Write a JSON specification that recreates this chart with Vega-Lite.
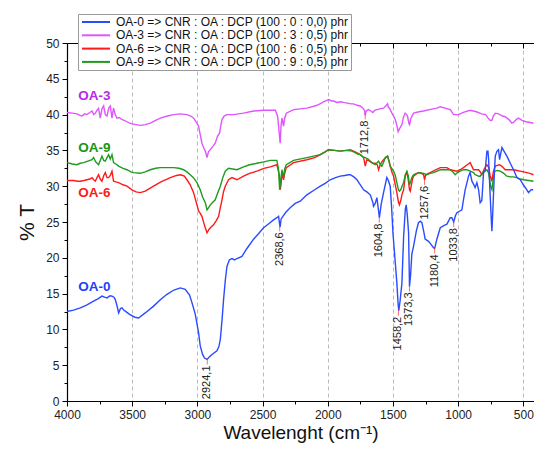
{
"$schema": "https://vega.github.io/schema/vega-lite/v6.json",
"width": 467, "height": 358,
"autosize": "none",
"padding": {"left": 67, "top": 43, "right": 0, "bottom": 48},
"background": "white",
"config": {"view": {"stroke": null}, "font": "Liberation Sans",
  "axis": {"domainColor": "#000", "tickColor": "#000", "labelColor": "#222", "labelFont": "Liberation Sans", "titleFont": "Liberation Sans", "labelFontSize": 12, "titleFontWeight": "normal", "titleColor": "#111", "domainWidth": 1.2, "tickWidth": 1}},
"datasets": {
"spec": [
{"s":"OA-6","w":4000,"t":30.8},{"s":"OA-6","w":3970,"t":30.8},{"s":"OA-6","w":3949,"t":30.8},{"s":"OA-6","w":3920,"t":30.7},{"s":"OA-6","w":3898,"t":30.7},{"s":"OA-6","w":3870,"t":30.8},{"s":"OA-6","w":3847,"t":30.9},{"s":"OA-6","w":3825,"t":31.0},{"s":"OA-6","w":3808,"t":31.2},{"s":"OA-6","w":3795,"t":30.9},{"s":"OA-6","w":3783,"t":30.7},{"s":"OA-6","w":3770,"t":31.2},{"s":"OA-6","w":3758,"t":31.6},{"s":"OA-6","w":3745,"t":31.0},{"s":"OA-6","w":3732,"t":30.7},{"s":"OA-6","w":3718,"t":31.5},{"s":"OA-6","w":3706,"t":31.9},{"s":"OA-6","w":3693,"t":31.2},{"s":"OA-6","w":3681,"t":31.2},{"s":"OA-6","w":3668,"t":31.5},{"s":"OA-6","w":3655,"t":32.1},{"s":"OA-6","w":3643,"t":30.7},{"s":"OA-6","w":3625,"t":30.6},{"s":"OA-6","w":3604,"t":30.5},{"s":"OA-6","w":3570,"t":30.2},{"s":"OA-6","w":3540,"t":30.0},{"s":"OA-6","w":3501,"t":29.5},{"s":"OA-6","w":3470,"t":29.2},{"s":"OA-6","w":3438,"t":29.1},{"s":"OA-6","w":3400,"t":29.3},{"s":"OA-6","w":3336,"t":30.0},{"s":"OA-6","w":3280,"t":30.6},{"s":"OA-6","w":3207,"t":31.2},{"s":"OA-6","w":3160,"t":31.5},{"s":"OA-6","w":3131,"t":31.6},{"s":"OA-6","w":3100,"t":31.4},{"s":"OA-6","w":3080,"t":30.9},{"s":"OA-6","w":3055,"t":30.2},{"s":"OA-6","w":3029,"t":29.1},{"s":"OA-6","w":3005,"t":27.5},{"s":"OA-6","w":2990,"t":26.5},{"s":"OA-6","w":2978,"t":26.2},{"s":"OA-6","w":2965,"t":25.8},{"s":"OA-6","w":2945,"t":24.5},{"s":"OA-6","w":2926,"t":23.5},{"s":"OA-6","w":2910,"t":24.0},{"s":"OA-6","w":2895,"t":24.3},{"s":"OA-6","w":2876,"t":24.6},{"s":"OA-6","w":2855,"t":25.2},{"s":"OA-6","w":2837,"t":25.8},{"s":"OA-6","w":2824,"t":27.0},{"s":"OA-6","w":2811,"t":28.1},{"s":"OA-6","w":2800,"t":29.2},{"s":"OA-6","w":2786,"t":30.0},{"s":"OA-6","w":2761,"t":30.9},{"s":"OA-6","w":2735,"t":31.2},{"s":"OA-6","w":2696,"t":30.9},{"s":"OA-6","w":2646,"t":31.4},{"s":"OA-6","w":2600,"t":31.8},{"s":"OA-6","w":2543,"t":32.1},{"s":"OA-6","w":2490,"t":32.5},{"s":"OA-6","w":2441,"t":32.7},{"s":"OA-6","w":2390,"t":33.0},{"s":"OA-6","w":2372,"t":31.6},{"s":"OA-6","w":2364,"t":29.5},{"s":"OA-6","w":2357,"t":30.5},{"s":"OA-6","w":2351,"t":31.9},{"s":"OA-6","w":2339,"t":30.9},{"s":"OA-6","w":2330,"t":31.8},{"s":"OA-6","w":2318,"t":32.6},{"s":"OA-6","w":2262,"t":33.3},{"s":"OA-6","w":2160,"t":33.7},{"s":"OA-6","w":2100,"t":34.0},{"s":"OA-6","w":2057,"t":34.4},{"s":"OA-6","w":2020,"t":34.8},{"s":"OA-6","w":1994,"t":35.1},{"s":"OA-6","w":1950,"t":35.0},{"s":"OA-6","w":1904,"t":34.9},{"s":"OA-6","w":1860,"t":35.0},{"s":"OA-6","w":1827,"t":35.1},{"s":"OA-6","w":1790,"t":34.8},{"s":"OA-6","w":1751,"t":34.4},{"s":"OA-6","w":1725,"t":34.0},{"s":"OA-6","w":1712,"t":32.8},{"s":"OA-6","w":1700,"t":33.7},{"s":"OA-6","w":1680,"t":33.5},{"s":"OA-6","w":1655,"t":33.2},{"s":"OA-6","w":1636,"t":33.2},{"s":"OA-6","w":1620,"t":33.0},{"s":"OA-6","w":1610,"t":32.3},{"s":"OA-6","w":1598,"t":33.0},{"s":"OA-6","w":1585,"t":33.4},{"s":"OA-6","w":1572,"t":33.7},{"s":"OA-6","w":1555,"t":34.0},{"s":"OA-6","w":1541,"t":34.2},{"s":"OA-6","w":1530,"t":33.5},{"s":"OA-6","w":1521,"t":32.8},{"s":"OA-6","w":1505,"t":31.8},{"s":"OA-6","w":1495,"t":31.4},{"s":"OA-6","w":1482,"t":30.2},{"s":"OA-6","w":1470,"t":29.1},{"s":"OA-6","w":1458,"t":27.8},{"s":"OA-6","w":1450,"t":27.4},{"s":"OA-6","w":1440,"t":28.0},{"s":"OA-6","w":1430,"t":28.9},{"s":"OA-6","w":1418,"t":29.5},{"s":"OA-6","w":1405,"t":31.5},{"s":"OA-6","w":1393,"t":31.9},{"s":"OA-6","w":1383,"t":31.0},{"s":"OA-6","w":1373,"t":29.5},{"s":"OA-6","w":1367,"t":29.3},{"s":"OA-6","w":1360,"t":30.0},{"s":"OA-6","w":1350,"t":31.0},{"s":"OA-6","w":1342,"t":31.4},{"s":"OA-6","w":1320,"t":31.7},{"s":"OA-6","w":1304,"t":31.9},{"s":"OA-6","w":1280,"t":31.8},{"s":"OA-6","w":1265,"t":31.6},{"s":"OA-6","w":1257,"t":30.9},{"s":"OA-6","w":1250,"t":31.5},{"s":"OA-6","w":1230,"t":31.8},{"s":"OA-6","w":1214,"t":31.9},{"s":"OA-6","w":1180,"t":32.2},{"s":"OA-6","w":1137,"t":32.6},{"s":"OA-6","w":1100,"t":32.6},{"s":"OA-6","w":1086,"t":32.6},{"s":"OA-6","w":1060,"t":32.3},{"s":"OA-6","w":1035,"t":32.2},{"s":"OA-6","w":1009,"t":32.1},{"s":"OA-6","w":985,"t":32.3},{"s":"OA-6","w":959,"t":32.6},{"s":"OA-6","w":930,"t":33.0},{"s":"OA-6","w":908,"t":33.3},{"s":"OA-6","w":895,"t":32.8},{"s":"OA-6","w":882,"t":32.3},{"s":"OA-6","w":860,"t":32.3},{"s":"OA-6","w":843,"t":32.3},{"s":"OA-6","w":830,"t":32.0},{"s":"OA-6","w":818,"t":31.6},{"s":"OA-6","w":800,"t":32.4},{"s":"OA-6","w":779,"t":33.0},{"s":"OA-6","w":765,"t":32.6},{"s":"OA-6","w":755,"t":31.5},{"s":"OA-6","w":741,"t":30.7},{"s":"OA-6","w":730,"t":32.0},{"s":"OA-6","w":715,"t":32.8},{"s":"OA-6","w":700,"t":32.9},{"s":"OA-6","w":682,"t":33.0},{"s":"OA-6","w":660,"t":32.7},{"s":"OA-6","w":639,"t":32.3},{"s":"OA-6","w":600,"t":32.3},{"s":"OA-6","w":575,"t":32.3},{"s":"OA-6","w":549,"t":32.2},{"s":"OA-6","w":523,"t":32.1},{"s":"OA-6","w":498,"t":32.0},{"s":"OA-6","w":473,"t":31.9},{"s":"OA-6","w":450,"t":31.8},{"s":"OA-6","w":422,"t":31.6},
{"s":"OA-9","w":4000,"t":33.3},{"s":"OA-9","w":3960,"t":33.1},{"s":"OA-9","w":3923,"t":33.0},{"s":"OA-9","w":3900,"t":33.2},{"s":"OA-9","w":3872,"t":33.3},{"s":"OA-9","w":3840,"t":33.5},{"s":"OA-9","w":3808,"t":33.7},{"s":"OA-9","w":3796,"t":34.0},{"s":"OA-9","w":3780,"t":33.4},{"s":"OA-9","w":3758,"t":33.0},{"s":"OA-9","w":3745,"t":33.6},{"s":"OA-9","w":3732,"t":34.2},{"s":"OA-9","w":3718,"t":33.6},{"s":"OA-9","w":3706,"t":33.5},{"s":"OA-9","w":3693,"t":34.0},{"s":"OA-9","w":3681,"t":34.4},{"s":"OA-9","w":3668,"t":33.8},{"s":"OA-9","w":3655,"t":34.4},{"s":"OA-9","w":3643,"t":33.3},{"s":"OA-9","w":3625,"t":33.1},{"s":"OA-9","w":3604,"t":32.8},{"s":"OA-9","w":3570,"t":32.5},{"s":"OA-9","w":3540,"t":32.3},{"s":"OA-9","w":3510,"t":32.0},{"s":"OA-9","w":3489,"t":31.9},{"s":"OA-9","w":3438,"t":31.8},{"s":"OA-9","w":3400,"t":32.0},{"s":"OA-9","w":3361,"t":32.3},{"s":"OA-9","w":3320,"t":32.5},{"s":"OA-9","w":3284,"t":32.6},{"s":"OA-9","w":3230,"t":32.6},{"s":"OA-9","w":3182,"t":32.6},{"s":"OA-9","w":3140,"t":32.5},{"s":"OA-9","w":3106,"t":32.3},{"s":"OA-9","w":3080,"t":32.0},{"s":"OA-9","w":3055,"t":31.6},{"s":"OA-9","w":3030,"t":31.2},{"s":"OA-9","w":3003,"t":30.5},{"s":"OA-9","w":2978,"t":29.5},{"s":"OA-9","w":2960,"t":28.5},{"s":"OA-9","w":2939,"t":27.7},{"s":"OA-9","w":2926,"t":26.7},{"s":"OA-9","w":2914,"t":27.0},{"s":"OA-9","w":2900,"t":27.4},{"s":"OA-9","w":2880,"t":27.8},{"s":"OA-9","w":2863,"t":28.1},{"s":"OA-9","w":2845,"t":29.0},{"s":"OA-9","w":2824,"t":30.0},{"s":"OA-9","w":2805,"t":31.2},{"s":"OA-9","w":2786,"t":32.1},{"s":"OA-9","w":2761,"t":32.5},{"s":"OA-9","w":2730,"t":32.4},{"s":"OA-9","w":2696,"t":32.3},{"s":"OA-9","w":2646,"t":32.7},{"s":"OA-9","w":2600,"t":33.0},{"s":"OA-9","w":2543,"t":33.2},{"s":"OA-9","w":2490,"t":33.4},{"s":"OA-9","w":2441,"t":33.6},{"s":"OA-9","w":2390,"t":33.6},{"s":"OA-9","w":2377,"t":32.3},{"s":"OA-9","w":2369,"t":29.5},{"s":"OA-9","w":2360,"t":31.0},{"s":"OA-9","w":2351,"t":32.3},{"s":"OA-9","w":2339,"t":31.2},{"s":"OA-9","w":2330,"t":32.4},{"s":"OA-9","w":2318,"t":33.0},{"s":"OA-9","w":2262,"t":33.6},{"s":"OA-9","w":2160,"t":34.0},{"s":"OA-9","w":2057,"t":34.4},{"s":"OA-9","w":2020,"t":34.8},{"s":"OA-9","w":1994,"t":35.1},{"s":"OA-9","w":1950,"t":35.0},{"s":"OA-9","w":1904,"t":34.9},{"s":"OA-9","w":1860,"t":35.0},{"s":"OA-9","w":1814,"t":34.9},{"s":"OA-9","w":1790,"t":34.7},{"s":"OA-9","w":1770,"t":34.5},{"s":"OA-9","w":1751,"t":34.4},{"s":"OA-9","w":1730,"t":34.1},{"s":"OA-9","w":1712,"t":34.0},{"s":"OA-9","w":1690,"t":33.8},{"s":"OA-9","w":1674,"t":33.5},{"s":"OA-9","w":1655,"t":33.2},{"s":"OA-9","w":1636,"t":33.0},{"s":"OA-9","w":1620,"t":33.3},{"s":"OA-9","w":1610,"t":33.5},{"s":"OA-9","w":1595,"t":33.0},{"s":"OA-9","w":1585,"t":32.8},{"s":"OA-9","w":1570,"t":33.4},{"s":"OA-9","w":1559,"t":34.0},{"s":"OA-9","w":1541,"t":34.2},{"s":"OA-9","w":1530,"t":33.5},{"s":"OA-9","w":1521,"t":32.8},{"s":"OA-9","w":1505,"t":32.4},{"s":"OA-9","w":1495,"t":32.1},{"s":"OA-9","w":1482,"t":31.5},{"s":"OA-9","w":1470,"t":30.5},{"s":"OA-9","w":1458,"t":29.5},{"s":"OA-9","w":1450,"t":29.3},{"s":"OA-9","w":1440,"t":29.5},{"s":"OA-9","w":1430,"t":30.0},{"s":"OA-9","w":1418,"t":30.5},{"s":"OA-9","w":1405,"t":31.6},{"s":"OA-9","w":1393,"t":32.1},{"s":"OA-9","w":1383,"t":31.5},{"s":"OA-9","w":1373,"t":30.2},{"s":"OA-9","w":1365,"t":30.6},{"s":"OA-9","w":1355,"t":31.2},{"s":"OA-9","w":1342,"t":31.6},{"s":"OA-9","w":1320,"t":31.8},{"s":"OA-9","w":1291,"t":31.9},{"s":"OA-9","w":1265,"t":31.8},{"s":"OA-9","w":1240,"t":31.6},{"s":"OA-9","w":1214,"t":31.8},{"s":"OA-9","w":1189,"t":31.9},{"s":"OA-9","w":1160,"t":32.1},{"s":"OA-9","w":1137,"t":32.3},{"s":"OA-9","w":1100,"t":32.3},{"s":"OA-9","w":1060,"t":32.3},{"s":"OA-9","w":1040,"t":32.0},{"s":"OA-9","w":1023,"t":31.6},{"s":"OA-9","w":1005,"t":31.9},{"s":"OA-9","w":984,"t":32.1},{"s":"OA-9","w":960,"t":32.3},{"s":"OA-9","w":933,"t":32.3},{"s":"OA-9","w":908,"t":32.1},{"s":"OA-9","w":882,"t":31.9},{"s":"OA-9","w":869,"t":31.6},{"s":"OA-9","w":855,"t":31.5},{"s":"OA-9","w":843,"t":31.4},{"s":"OA-9","w":831,"t":31.4},{"s":"OA-9","w":815,"t":31.8},{"s":"OA-9","w":800,"t":32.0},{"s":"OA-9","w":779,"t":32.3},{"s":"OA-9","w":765,"t":31.8},{"s":"OA-9","w":755,"t":30.5},{"s":"OA-9","w":748,"t":29.8},{"s":"OA-9","w":741,"t":29.5},{"s":"OA-9","w":732,"t":30.8},{"s":"OA-9","w":722,"t":32.0},{"s":"OA-9","w":715,"t":32.1},{"s":"OA-9","w":700,"t":32.2},{"s":"OA-9","w":677,"t":32.1},{"s":"OA-9","w":650,"t":31.8},{"s":"OA-9","w":626,"t":31.4},{"s":"OA-9","w":600,"t":31.3},{"s":"OA-9","w":575,"t":31.3},{"s":"OA-9","w":549,"t":31.2},{"s":"OA-9","w":523,"t":31.0},{"s":"OA-9","w":498,"t":30.9},{"s":"OA-9","w":460,"t":30.8},{"s":"OA-9","w":422,"t":30.7},
{"s":"OA-3","w":4000,"t":40.3},{"s":"OA-3","w":3960,"t":40.2},{"s":"OA-3","w":3923,"t":40.1},{"s":"OA-3","w":3900,"t":39.9},{"s":"OA-3","w":3885,"t":39.8},{"s":"OA-3","w":3865,"t":40.1},{"s":"OA-3","w":3847,"t":40.0},{"s":"OA-3","w":3825,"t":40.3},{"s":"OA-3","w":3808,"t":40.5},{"s":"OA-3","w":3795,"t":40.0},{"s":"OA-3","w":3783,"t":40.2},{"s":"OA-3","w":3770,"t":40.6},{"s":"OA-3","w":3758,"t":40.9},{"s":"OA-3","w":3745,"t":39.5},{"s":"OA-3","w":3732,"t":40.8},{"s":"OA-3","w":3719,"t":41.2},{"s":"OA-3","w":3706,"t":40.0},{"s":"OA-3","w":3693,"t":39.8},{"s":"OA-3","w":3680,"t":40.9},{"s":"OA-3","w":3668,"t":41.2},{"s":"OA-3","w":3655,"t":39.5},{"s":"OA-3","w":3643,"t":40.9},{"s":"OA-3","w":3630,"t":40.0},{"s":"OA-3","w":3617,"t":39.5},{"s":"OA-3","w":3600,"t":39.6},{"s":"OA-3","w":3578,"t":39.3},{"s":"OA-3","w":3560,"t":39.2},{"s":"OA-3","w":3540,"t":39.0},{"s":"OA-3","w":3520,"t":38.8},{"s":"OA-3","w":3501,"t":38.7},{"s":"OA-3","w":3470,"t":38.6},{"s":"OA-3","w":3438,"t":38.5},{"s":"OA-3","w":3400,"t":38.6},{"s":"OA-3","w":3361,"t":38.8},{"s":"OA-3","w":3320,"t":39.2},{"s":"OA-3","w":3284,"t":39.5},{"s":"OA-3","w":3230,"t":39.8},{"s":"OA-3","w":3182,"t":40.0},{"s":"OA-3","w":3130,"t":40.1},{"s":"OA-3","w":3080,"t":40.0},{"s":"OA-3","w":3050,"t":39.8},{"s":"OA-3","w":3029,"t":39.5},{"s":"OA-3","w":3010,"t":39.0},{"s":"OA-3","w":2991,"t":38.4},{"s":"OA-3","w":2978,"t":37.2},{"s":"OA-3","w":2965,"t":36.0},{"s":"OA-3","w":2950,"t":35.3},{"s":"OA-3","w":2939,"t":34.9},{"s":"OA-3","w":2926,"t":34.0},{"s":"OA-3","w":2915,"t":34.8},{"s":"OA-3","w":2901,"t":35.1},{"s":"OA-3","w":2880,"t":35.6},{"s":"OA-3","w":2863,"t":36.0},{"s":"OA-3","w":2845,"t":37.0},{"s":"OA-3","w":2830,"t":37.4},{"s":"OA-3","w":2820,"t":38.5},{"s":"OA-3","w":2811,"t":39.3},{"s":"OA-3","w":2795,"t":39.8},{"s":"OA-3","w":2773,"t":40.0},{"s":"OA-3","w":2722,"t":40.0},{"s":"OA-3","w":2646,"t":40.2},{"s":"OA-3","w":2569,"t":40.5},{"s":"OA-3","w":2492,"t":40.6},{"s":"OA-3","w":2430,"t":40.6},{"s":"OA-3","w":2402,"t":40.6},{"s":"OA-3","w":2385,"t":39.8},{"s":"OA-3","w":2375,"t":38.0},{"s":"OA-3","w":2365,"t":36.0},{"s":"OA-3","w":2358,"t":38.5},{"s":"OA-3","w":2351,"t":39.5},{"s":"OA-3","w":2345,"t":39.0},{"s":"OA-3","w":2339,"t":38.4},{"s":"OA-3","w":2330,"t":39.5},{"s":"OA-3","w":2318,"t":40.2},{"s":"OA-3","w":2262,"t":40.7},{"s":"OA-3","w":2160,"t":40.9},{"s":"OA-3","w":2100,"t":41.2},{"s":"OA-3","w":2070,"t":41.4},{"s":"OA-3","w":2030,"t":41.8},{"s":"OA-3","w":2006,"t":42.0},{"s":"OA-3","w":1994,"t":42.1},{"s":"OA-3","w":1970,"t":41.9},{"s":"OA-3","w":1955,"t":41.9},{"s":"OA-3","w":1930,"t":41.7},{"s":"OA-3","w":1900,"t":41.8},{"s":"OA-3","w":1879,"t":41.7},{"s":"OA-3","w":1850,"t":41.6},{"s":"OA-3","w":1820,"t":41.5},{"s":"OA-3","w":1802,"t":41.5},{"s":"OA-3","w":1775,"t":41.3},{"s":"OA-3","w":1751,"t":41.2},{"s":"OA-3","w":1730,"t":40.9},{"s":"OA-3","w":1718,"t":40.6},{"s":"OA-3","w":1713,"t":39.9},{"s":"OA-3","w":1705,"t":40.5},{"s":"OA-3","w":1687,"t":40.7},{"s":"OA-3","w":1670,"t":40.5},{"s":"OA-3","w":1654,"t":40.3},{"s":"OA-3","w":1640,"t":40.6},{"s":"OA-3","w":1623,"t":40.7},{"s":"OA-3","w":1600,"t":40.8},{"s":"OA-3","w":1572,"t":40.9},{"s":"OA-3","w":1550,"t":41.3},{"s":"OA-3","w":1541,"t":41.5},{"s":"OA-3","w":1535,"t":41.0},{"s":"OA-3","w":1526,"t":40.9},{"s":"OA-3","w":1508,"t":40.2},{"s":"OA-3","w":1495,"t":39.8},{"s":"OA-3","w":1482,"t":39.3},{"s":"OA-3","w":1470,"t":38.5},{"s":"OA-3","w":1460,"t":37.6},{"s":"OA-3","w":1450,"t":38.0},{"s":"OA-3","w":1431,"t":38.6},{"s":"OA-3","w":1420,"t":39.6},{"s":"OA-3","w":1406,"t":40.2},{"s":"OA-3","w":1395,"t":40.0},{"s":"OA-3","w":1388,"t":39.8},{"s":"OA-3","w":1378,"t":38.8},{"s":"OA-3","w":1372,"t":38.6},{"s":"OA-3","w":1362,"t":39.5},{"s":"OA-3","w":1342,"t":40.2},{"s":"OA-3","w":1300,"t":40.4},{"s":"OA-3","w":1265,"t":40.5},{"s":"OA-3","w":1220,"t":40.7},{"s":"OA-3","w":1163,"t":40.9},{"s":"OA-3","w":1137,"t":41.1},{"s":"OA-3","w":1100,"t":40.9},{"s":"OA-3","w":1060,"t":40.7},{"s":"OA-3","w":1035,"t":40.0},{"s":"OA-3","w":997,"t":40.0},{"s":"OA-3","w":960,"t":40.3},{"s":"OA-3","w":908,"t":40.6},{"s":"OA-3","w":860,"t":40.4},{"s":"OA-3","w":820,"t":40.1},{"s":"OA-3","w":790,"t":40.0},{"s":"OA-3","w":770,"t":39.5},{"s":"OA-3","w":755,"t":39.2},{"s":"OA-3","w":741,"t":39.2},{"s":"OA-3","w":730,"t":39.8},{"s":"OA-3","w":715,"t":40.2},{"s":"OA-3","w":690,"t":40.1},{"s":"OA-3","w":660,"t":39.8},{"s":"OA-3","w":640,"t":39.7},{"s":"OA-3","w":610,"t":39.3},{"s":"OA-3","w":588,"t":38.8},{"s":"OA-3","w":575,"t":38.9},{"s":"OA-3","w":555,"t":39.3},{"s":"OA-3","w":537,"t":39.5},{"s":"OA-3","w":510,"t":39.2},{"s":"OA-3","w":480,"t":39.0},{"s":"OA-3","w":447,"t":38.9},{"s":"OA-3","w":422,"t":38.8},
{"s":"OA-0","w":4000,"t":12.5},{"s":"OA-0","w":3950,"t":12.7},{"s":"OA-0","w":3898,"t":13.0},{"s":"OA-0","w":3850,"t":13.4},{"s":"OA-0","w":3796,"t":13.95},{"s":"OA-0","w":3760,"t":14.3},{"s":"OA-0","w":3732,"t":14.65},{"s":"OA-0","w":3712,"t":14.5},{"s":"OA-0","w":3693,"t":14.4},{"s":"OA-0","w":3670,"t":14.7},{"s":"OA-0","w":3655,"t":14.65},{"s":"OA-0","w":3640,"t":14.5},{"s":"OA-0","w":3630,"t":14.2},{"s":"OA-0","w":3615,"t":13.2},{"s":"OA-0","w":3604,"t":12.3},{"s":"OA-0","w":3590,"t":12.9},{"s":"OA-0","w":3578,"t":13.0},{"s":"OA-0","w":3565,"t":12.7},{"s":"OA-0","w":3553,"t":12.56},{"s":"OA-0","w":3520,"t":12.1},{"s":"OA-0","w":3480,"t":11.7},{"s":"OA-0","w":3451,"t":11.6},{"s":"OA-0","w":3400,"t":12.3},{"s":"OA-0","w":3336,"t":13.25},{"s":"OA-0","w":3280,"t":14.2},{"s":"OA-0","w":3233,"t":14.9},{"s":"OA-0","w":3180,"t":15.5},{"s":"OA-0","w":3131,"t":15.8},{"s":"OA-0","w":3093,"t":15.6},{"s":"OA-0","w":3060,"t":14.8},{"s":"OA-0","w":3041,"t":13.7},{"s":"OA-0","w":3016,"t":12.1},{"s":"OA-0","w":2991,"t":9.55},{"s":"OA-0","w":2978,"t":7.7},{"s":"OA-0","w":2960,"t":6.5},{"s":"OA-0","w":2945,"t":6.0},{"s":"OA-0","w":2926,"t":5.8},{"s":"OA-0","w":2905,"t":6.2},{"s":"OA-0","w":2888,"t":6.5},{"s":"OA-0","w":2850,"t":7.0},{"s":"OA-0","w":2835,"t":7.6},{"s":"OA-0","w":2824,"t":8.6},{"s":"OA-0","w":2810,"t":11.5},{"s":"OA-0","w":2799,"t":14.2},{"s":"OA-0","w":2785,"t":17.0},{"s":"OA-0","w":2773,"t":18.8},{"s":"OA-0","w":2755,"t":19.7},{"s":"OA-0","w":2735,"t":19.9},{"s":"OA-0","w":2715,"t":19.7},{"s":"OA-0","w":2696,"t":19.9},{"s":"OA-0","w":2658,"t":20.2},{"s":"OA-0","w":2620,"t":21.3},{"s":"OA-0","w":2569,"t":22.6},{"s":"OA-0","w":2530,"t":23.4},{"s":"OA-0","w":2492,"t":24.2},{"s":"OA-0","w":2450,"t":24.8},{"s":"OA-0","w":2416,"t":25.3},{"s":"OA-0","w":2390,"t":25.6},{"s":"OA-0","w":2377,"t":25.8},{"s":"OA-0","w":2370,"t":24.8},{"s":"OA-0","w":2365,"t":24.3},{"s":"OA-0","w":2358,"t":25.4},{"s":"OA-0","w":2344,"t":25.8},{"s":"OA-0","w":2320,"t":26.4},{"s":"OA-0","w":2288,"t":27.0},{"s":"OA-0","w":2250,"t":27.6},{"s":"OA-0","w":2211,"t":27.9},{"s":"OA-0","w":2160,"t":28.8},{"s":"OA-0","w":2100,"t":29.5},{"s":"OA-0","w":2057,"t":30.0},{"s":"OA-0","w":2020,"t":30.4},{"s":"OA-0","w":1981,"t":30.9},{"s":"OA-0","w":1940,"t":31.2},{"s":"OA-0","w":1904,"t":31.4},{"s":"OA-0","w":1870,"t":31.5},{"s":"OA-0","w":1840,"t":31.6},{"s":"OA-0","w":1827,"t":31.6},{"s":"OA-0","w":1800,"t":31.3},{"s":"OA-0","w":1776,"t":30.9},{"s":"OA-0","w":1750,"t":30.2},{"s":"OA-0","w":1725,"t":29.5},{"s":"OA-0","w":1700,"t":29.2},{"s":"OA-0","w":1674,"t":28.8},{"s":"OA-0","w":1655,"t":27.8},{"s":"OA-0","w":1649,"t":27.2},{"s":"OA-0","w":1636,"t":27.6},{"s":"OA-0","w":1623,"t":28.4},{"s":"OA-0","w":1610,"t":26.5},{"s":"OA-0","w":1604,"t":25.6},{"s":"OA-0","w":1590,"t":27.5},{"s":"OA-0","w":1572,"t":29.1},{"s":"OA-0","w":1547,"t":31.2},{"s":"OA-0","w":1535,"t":30.8},{"s":"OA-0","w":1521,"t":30.0},{"s":"OA-0","w":1510,"t":27.0},{"s":"OA-0","w":1500,"t":23.5},{"s":"OA-0","w":1485,"t":20.0},{"s":"OA-0","w":1470,"t":16.5},{"s":"OA-0","w":1460,"t":13.5},{"s":"OA-0","w":1455,"t":12.6},{"s":"OA-0","w":1445,"t":14.0},{"s":"OA-0","w":1431,"t":16.5},{"s":"OA-0","w":1418,"t":23.0},{"s":"OA-0","w":1405,"t":26.8},{"s":"OA-0","w":1398,"t":27.4},{"s":"OA-0","w":1390,"t":26.0},{"s":"OA-0","w":1380,"t":23.5},{"s":"OA-0","w":1373,"t":16.0},{"s":"OA-0","w":1365,"t":17.5},{"s":"OA-0","w":1355,"t":20.5},{"s":"OA-0","w":1342,"t":21.6},{"s":"OA-0","w":1320,"t":23.8},{"s":"OA-0","w":1304,"t":24.9},{"s":"OA-0","w":1290,"t":25.1},{"s":"OA-0","w":1278,"t":24.9},{"s":"OA-0","w":1265,"t":23.8},{"s":"OA-0","w":1253,"t":22.6},{"s":"OA-0","w":1227,"t":22.3},{"s":"OA-0","w":1205,"t":21.8},{"s":"OA-0","w":1189,"t":21.4},{"s":"OA-0","w":1180,"t":21.3},{"s":"OA-0","w":1163,"t":22.6},{"s":"OA-0","w":1137,"t":24.2},{"s":"OA-0","w":1110,"t":24.5},{"s":"OA-0","w":1086,"t":24.7},{"s":"OA-0","w":1060,"t":25.6},{"s":"OA-0","w":1048,"t":25.6},{"s":"OA-0","w":1034,"t":25.0},{"s":"OA-0","w":1020,"t":25.9},{"s":"OA-0","w":1009,"t":26.3},{"s":"OA-0","w":990,"t":26.5},{"s":"OA-0","w":971,"t":26.7},{"s":"OA-0","w":959,"t":28.1},{"s":"OA-0","w":946,"t":29.5},{"s":"OA-0","w":920,"t":31.4},{"s":"OA-0","w":908,"t":31.9},{"s":"OA-0","w":894,"t":30.7},{"s":"OA-0","w":882,"t":30.3},{"s":"OA-0","w":870,"t":29.8},{"s":"OA-0","w":856,"t":30.5},{"s":"OA-0","w":843,"t":29.5},{"s":"OA-0","w":831,"t":27.7},{"s":"OA-0","w":818,"t":28.0},{"s":"OA-0","w":805,"t":31.9},{"s":"OA-0","w":792,"t":32.3},{"s":"OA-0","w":779,"t":34.9},{"s":"OA-0","w":771,"t":34.9},{"s":"OA-0","w":766,"t":33.7},{"s":"OA-0","w":755,"t":29.0},{"s":"OA-0","w":746,"t":25.5},{"s":"OA-0","w":741,"t":23.7},{"s":"OA-0","w":735,"t":26.0},{"s":"OA-0","w":721,"t":32.3},{"s":"OA-0","w":715,"t":34.2},{"s":"OA-0","w":702,"t":34.9},{"s":"OA-0","w":690,"t":35.1},{"s":"OA-0","w":682,"t":33.7},{"s":"OA-0","w":673,"t":34.6},{"s":"OA-0","w":664,"t":35.4},{"s":"OA-0","w":645,"t":34.8},{"s":"OA-0","w":626,"t":34.2},{"s":"OA-0","w":600,"t":33.2},{"s":"OA-0","w":575,"t":32.3},{"s":"OA-0","w":549,"t":31.2},{"s":"OA-0","w":523,"t":30.9},{"s":"OA-0","w":500,"t":30.2},{"s":"OA-0","w":473,"t":29.5},{"s":"OA-0","w":460,"t":29.1},{"s":"OA-0","w":440,"t":29.5},{"s":"OA-0","w":424,"t":29.5}
],
"peaks": [
{"w":2924.1,"t":5.8,"label":"2924,1"},{"w":2368.6,"t":24.4,"label":"2368,6"},{"w":1712.8,"t":40.0,"label":"1712,8"},{"w":1604.8,"t":25.6,"label":"1604,8"},{"w":1458.2,"t":12.6,"label":"1458,2"},{"w":1373.3,"t":16.0,"label":"1373,3"},{"w":1257.6,"t":30.9,"label":"1257,6"},{"w":1180.4,"t":21.3,"label":"1180,4"},{"w":1033.8,"t":25.0,"label":"1033,8"}
],
"names": [
{"s":"OA-3","w":3913,"t":42.6},{"s":"OA-9","w":3913,"t":35.4},{"s":"OA-6","w":3913,"t":29.1},{"s":"OA-0","w":3913,"t":15.96}
]
},
"layer": [
{
 "data": {"name": "spec"},
 "mark": {"type": "line", "strokeWidth": 1.4, "clip": true},
 "encoding": {
  "x": {"field": "w", "type": "quantitative", "scale": {"domain": [4000, 418], "nice": false, "zero": false},
   "axis": {"orient": "bottom", "values": [4000,3500,3000,2500,2000,1500,1000,500], "tickSize": 5, "labelPadding": 3, "grid": true, "gridDash": [4,3], "gridColor": "#aaaaaa", "gridWidth": 0.8, "title": "Wavelenght (cm⁻¹)", "titleFontSize": 19, "titlePadding": 3, "labelFlush": false, "labelOverlap": false, "format": "d"}},
  "y": {"field": "t", "type": "quantitative", "scale": {"domain": [0, 50], "nice": false},
   "axis": {"orient": "left", "values": [0,5,10,15,20,25,30,35,40,45,50], "tickSize": 5, "labelPadding": 3, "grid": false, "title": "% T", "titleFontSize": 21, "titlePadding": 8}},
  "color": {"field": "s", "type": "nominal",
   "scale": {"domain": ["OA-0","OA-3","OA-6","OA-9"], "range": ["#2a4bff","#e055ff","#ff1a1a","#1f9a1f"]},
   "legend": {"orient": "none", "legendX": 11, "legendY": -29, "title": null, "symbolType": "M-1,0H6", "symbolSize": 64, "symbolStrokeWidth": 2, "labelFontSize": 12, "labelColor": "#111", "labelOffset": 24, "labelLimit": 0, "padding": 2, "rowPadding": 1.3, "fillColor": "white", "strokeColor": "#999999",
    "labelExpr": "datum.label == 'OA-0' ? 'OA-0 => CNR : OA : DCP (100 : 0 : 0,0) phr' : datum.label == 'OA-3' ? 'OA-3 => CNR : OA : DCP (100 : 3 : 0,5) phr' : datum.label == 'OA-6' ? 'OA-6 => CNR : OA : DCP (100 : 6 : 0,5) phr' : 'OA-9 => CNR : OA : DCP (100 : 9 : 0,5) phr'"}}
 }
},
{
 "data": {"name": "peaks"},
 "mark": {"type": "tick", "orient": "vertical", "color": "#ff3030", "size": 6, "thickness": 1, "yOffset": 2},
 "encoding": {
  "x": {"field": "w", "type": "quantitative", "axis": {"orient": "bottom", "values": [3750,3250,2750,2250,1750,1250,750], "tickSize": 3, "labels": false, "domain": false, "grid": false, "title": null}},
  "y": {"field": "t", "type": "quantitative", "axis": {"orient": "left", "values": [2.5,7.5,12.5,17.5,22.5,27.5,32.5,37.5,42.5,47.5], "tickSize": 3, "labels": false, "domain": false, "grid": false, "title": null}}
 }
},
{
 "data": {"name": "peaks"},
 "mark": {"type": "text", "angle": 270, "align": "right", "baseline": "middle", "dx": -6, "fontSize": 11, "color": "#222"},
 "encoding": {
  "x": {"field": "w", "type": "quantitative", "axis": {"orient": "top", "values": [3750,3250,2750,2250,1750,1250,750], "tickSize": -3, "labels": false, "domain": false, "grid": false, "title": null}},
  "y": {"field": "t", "type": "quantitative", "axis": null},
  "text": {"field": "label"}
 }
},
{
 "data": {"name": "names"},
 "mark": {"type": "text", "align": "left", "baseline": "middle", "fontSize": 13.5, "fontWeight": "bold"},
 "encoding": {
  "x": {"field": "w", "type": "quantitative", "axis": {"orient": "top", "values": [4000,3500,3000,2500,2000,1500,1000,500], "tickSize": -5, "labels": false, "domain": true, "grid": false, "title": null}},
  "y": {"field": "t", "type": "quantitative", "axis": null},
  "text": {"field": "s"},
  "fill": {"field": "s", "type": "nominal", "scale": {"domain": ["OA-0","OA-3","OA-6","OA-9"], "range": ["#1f3fff","#b52be6","#ff1a1a","#1a941a"]}, "legend": null}
 }
}
],
"resolve": {"axis": {"x": "independent", "y": "independent"}}
}
